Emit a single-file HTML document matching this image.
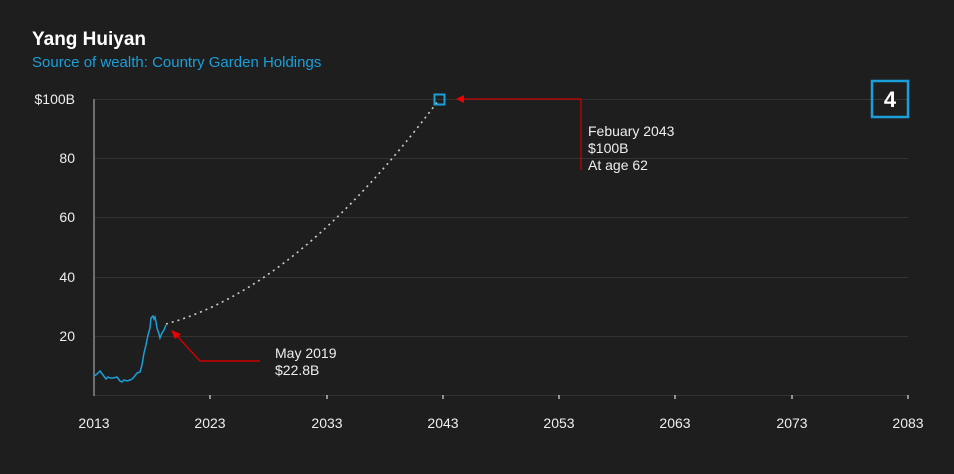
<!DOCTYPE html>
<html><head><meta charset="utf-8"><style>
body{margin:0;background:#1e1e1e;}
svg{display:block;font-family:"Liberation Sans",sans-serif;}
</style></head><body>
<svg width="954" height="474" viewBox="0 0 954 474">
<rect width="954" height="474" fill="#1e1e1e"/>
<text x="32" y="45" fill="#fff" font-size="19" font-weight="bold">Yang Huiyan</text>
<text x="32" y="67" fill="#1a9fd9" font-size="15">Source of wealth: Country Garden Holdings</text>
<g stroke="#333" stroke-width="1">
<line x1="94" y1="99.5" x2="908" y2="99.5"/>
<line x1="94" y1="158.5" x2="908" y2="158.5"/>
<line x1="94" y1="217.5" x2="908" y2="217.5"/>
<line x1="94" y1="277.5" x2="908" y2="277.5"/>
<line x1="94" y1="336.5" x2="908" y2="336.5"/>
<line x1="94" y1="395.5" x2="908" y2="395.5"/>
</g>
<line x1="94" y1="99" x2="94" y2="396" stroke="#888" stroke-width="1.5"/>
<g stroke="#ddd" stroke-width="1.2">
<line x1="210" y1="395" x2="210" y2="399"/><line x1="327" y1="395" x2="327" y2="399"/>
<line x1="443" y1="395" x2="443" y2="399"/><line x1="559" y1="395" x2="559" y2="399"/>
<line x1="675" y1="395" x2="675" y2="399"/><line x1="792" y1="395" x2="792" y2="399"/>
<line x1="908" y1="395" x2="908" y2="399"/>
</g>
<g fill="#eee" font-size="14" text-anchor="end">
<text x="75" y="104">$100B</text><text x="75" y="163">80</text><text x="75" y="222">60</text>
<text x="75" y="282">40</text><text x="75" y="341">20</text>
</g>
<g fill="#eee" font-size="14" text-anchor="middle">
<text x="94" y="428">2013</text><text x="210" y="428">2023</text><text x="327" y="428">2033</text>
<text x="443" y="428">2043</text><text x="559" y="428">2053</text><text x="675" y="428">2063</text>
<text x="792" y="428">2073</text><text x="908" y="428">2083</text>
</g>
<path d="M166,324 Q298,288 438,101" fill="none" stroke="#ccc" stroke-width="1.6" stroke-dasharray="2,4"/>
<polyline fill="none" stroke="#1a9fd9" stroke-width="1.5" points="94,376 97,374 100,371 103,375 106,379 108,377 110,378 113,378 117,377 120,381 122,382 124,380 127,381 130,380 132,379 134,377 137,373 140,372 142,365 144,353 146,345 148,335 150,328 151,318 153,316 154,319 155,317 156,322 157,328 159,334 160,338 162,333 164,330 166,325"/>
<polyline fill="none" stroke="#c00" stroke-width="1.5" points="260,361 200,361 177,336"/>
<polygon points="171,330 181,334 175,339" fill="#e00"/>
<polyline fill="none" stroke="#c00" stroke-width="1.2" points="581,170 581,99 462,99"/>
<polygon points="456,99 464,95 464,103" fill="#e00"/>
<rect x="434.5" y="94.5" width="10" height="10" fill="none" stroke="#1a9fd9" stroke-width="2"/>
<g fill="#eee" font-size="14">
<text x="275" y="358">May 2019</text><text x="275" y="375">$22.8B</text>
<text x="588" y="136">Febuary 2043</text><text x="588" y="153">$100B</text><text x="588" y="170">At age 62</text>
</g>
<rect x="872" y="81" width="36" height="36" fill="none" stroke="#1a9fd9" stroke-width="2.5"/>
<text x="890" y="107" fill="#fff" font-size="22" font-weight="bold" text-anchor="middle">4</text>
</svg>
</body></html>
